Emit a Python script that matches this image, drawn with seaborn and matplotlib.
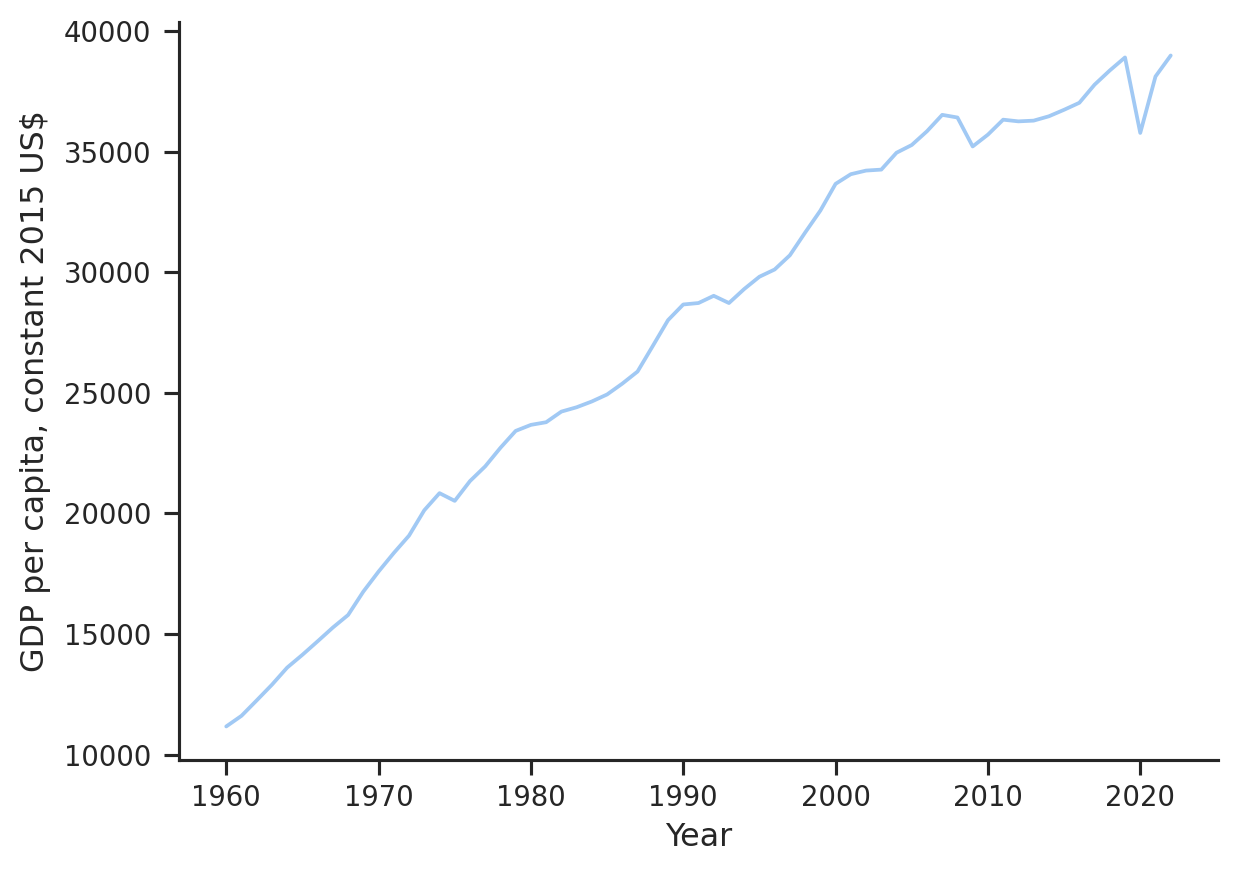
import pandas as pd
import seaborn as sns
from matplotlib import pyplot as plt

# GDP per capita (constant 2015 US$)
years = list(range(1960, 2023))
gdp = [11170, 11610, 12250, 12900, 13610, 14140, 14700, 15270, 15790, 16760,
       17590, 18360, 19080, 20130, 20840, 20520, 21340, 21950, 22720, 23420,
       23670, 23780, 24220, 24400, 24640, 24930, 25380, 25880, 26940, 28010,
       28660, 28720, 29020, 28720, 29300, 29810, 30110, 30700, 31640, 32550,
       33660, 34060, 34210, 34250, 34950, 35270, 35840, 36520, 36410, 35210,
       35700, 36320, 36250, 36280, 36460, 36730, 37020, 37770, 38360, 38900,
       35770, 38110, 38980]

df = pd.DataFrame({"Year": years, "GDP per capita, constant 2015 US$": gdp})

sns.set_theme(style="ticks", context="notebook", palette="pastel",
              rc={"axes.labelsize": 12.7})

fig, ax = plt.subplots(figsize=(1238 / 180, 878 / 180), dpi=180)
sns.lineplot(data=df, x="Year", y="GDP per capita, constant 2015 US$", ax=ax)
sns.despine()

ax.tick_params(axis="y", pad=5)
ax.yaxis.labelpad = 5

fig.subplots_adjust(left=0.1446, right=0.9838, top=0.975, bottom=0.1344)
fig.savefig("out.png", dpi=180)
